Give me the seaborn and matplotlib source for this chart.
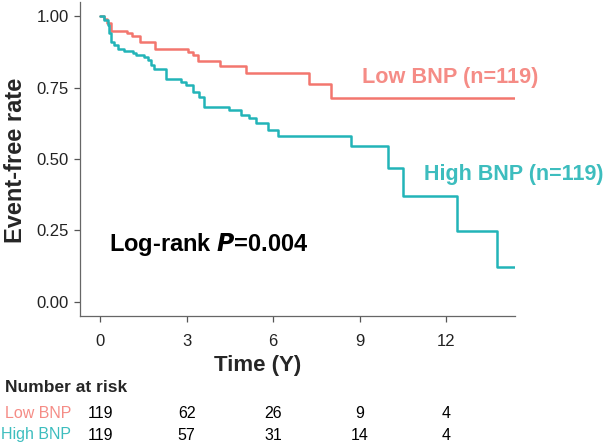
import numpy as np
import pandas as pd
import matplotlib
matplotlib.use("Agg")
import matplotlib.pyplot as plt
import matplotlib.transforms as mtransforms
import seaborn as sns

# Kaplan-Meier step data
times_low = [0, 0.12, 0.24, 0.38, 0.93, 1.11, 1.38, 1.90, 3.04, 3.22, 3.39,
             4.15, 5.05, 7.23, 7.99, 14.39]
surv_low = [1.0, 0.99, 0.977, 0.948, 0.94, 0.93, 0.91, 0.887, 0.876, 0.864,
            0.843, 0.826, 0.80, 0.762, 0.712, 0.712]

times_high = [0, 0.14, 0.28, 0.31, 0.38, 0.48, 0.62, 0.83, 1.14, 1.25, 1.52,
              1.66, 1.76, 1.87, 2.28, 2.80, 2.98, 3.22, 3.43, 3.60, 4.46, 4.88,
              5.16, 5.40, 5.81, 6.16, 8.69, 10.0, 10.52, 12.39, 13.77, 14.39]
surv_high = [1.0, 0.986, 0.968, 0.94, 0.91, 0.898, 0.887, 0.88, 0.872, 0.864,
             0.858, 0.846, 0.829, 0.817, 0.78, 0.77, 0.759, 0.735, 0.718, 0.683,
             0.671, 0.654, 0.642, 0.625, 0.60, 0.58, 0.545, 0.467, 0.37, 0.248,
             0.123, 0.123]

# Number at risk table
risk_times = [0, 3, 6, 9, 12]
risk_low = [119, 62, 26, 9, 4]
risk_high = [119, 57, 31, 14, 4]

group_names = ["Low BNP", "High BNP"]
n_per_group = [119, 119]

line_colors = ["#F3766E", "#22B4B8"]
text_colors = ["#F58C86", "#3DBDBE"]

sns.set_style("ticks")
plt.rcParams['font.family'] = ['Liberation Sans', 'DejaVu Sans']

W, H = 606, 445
fig = plt.figure(figsize=(W / 100, H / 100), dpi=100)
# axes box in pixels: left 80, right 515, top 2, bottom 316
ax = fig.add_axes([80 / W, 1 - 316 / H, (515 - 80) / W, (316 - 2) / H])

df_low = pd.DataFrame({"time": times_low, "surv": surv_low})
df_high = pd.DataFrame({"time": times_high, "surv": surv_high})
sns.lineplot(data=df_low, x="time", y="surv", drawstyle="steps-post",
             color=line_colors[0], linewidth=1.8, ax=ax)
sns.lineplot(data=df_high, x="time", y="surv", drawstyle="steps-post",
             color=line_colors[1], linewidth=1.8, ax=ax)

ax.set_xlim(-0.7, 14.39)
ax.set_ylim(-0.05, 1.05)
ax.set_xticks(risk_times)
ax.set_yticks([0, 0.25, 0.5, 0.75, 1.0])
ax.set_yticklabels(["0.00", "0.25", "0.50", "0.75", "1.00"])
ax.tick_params(axis="both", labelsize=12, colors="#555555", labelcolor="#222222",
               length=4, width=0.9)
ax.tick_params(axis="x", pad=9)
ax.tick_params(axis="y", pad=4)
for s in ["left", "bottom"]:
    ax.spines[s].set_color("#666666")
    ax.spines[s].set_linewidth(0.9)
sns.despine(ax=ax)

ax.set_xlabel("")
ax.set_ylabel("")
fig.text(16 / W, 1 - 160 / H, "Event-free rate", rotation=90, ha="center",
         va="center", fontsize=17, fontweight="bold")
fig.text(258 / W, 1 - 366 / H, "Time (Y)", ha="center", va="center",
         fontsize=16, fontweight="bold")

# group labels on the curves
ax.text(12.15, 0.787, f"{group_names[0]} (n={n_per_group[0]})", ha="center",
        va="center", fontsize=15.6, fontweight="bold", color=text_colors[0])
ax.text(14.36, 0.444, f"{group_names[1]} (n={n_per_group[1]})", ha="center",
        va="center", fontsize=15.5, fontweight="bold", color=text_colors[1])
ax.text(0.31, 0.199, r"Log-rank $\boldsymbol{P}$=0.004", ha="left", va="center",
        fontsize=17, fontweight="bold", color="black")

# risk table
fig.text(5 / W, 1 - 388 / H, "Number at risk", ha="left", va="center",
         fontsize=12.5, fontweight="bold")
trans = mtransforms.blended_transform_factory(ax.transData, fig.transFigure)
for row_y, name, col, counts in [(413, group_names[0], text_colors[0], risk_low),
                                 (435, group_names[1], text_colors[1], risk_high)]:
    fig.text(71 / W, 1 - row_y / H, name, ha="right", va="center",
             fontsize=11.5, color=col)
    for t, c in zip(risk_times, counts):
        ax.text(t, 1 - row_y / H, str(c), transform=trans, ha="center",
                va="center", fontsize=11.5, color="black")

fig.savefig("out.png", dpi=100)
